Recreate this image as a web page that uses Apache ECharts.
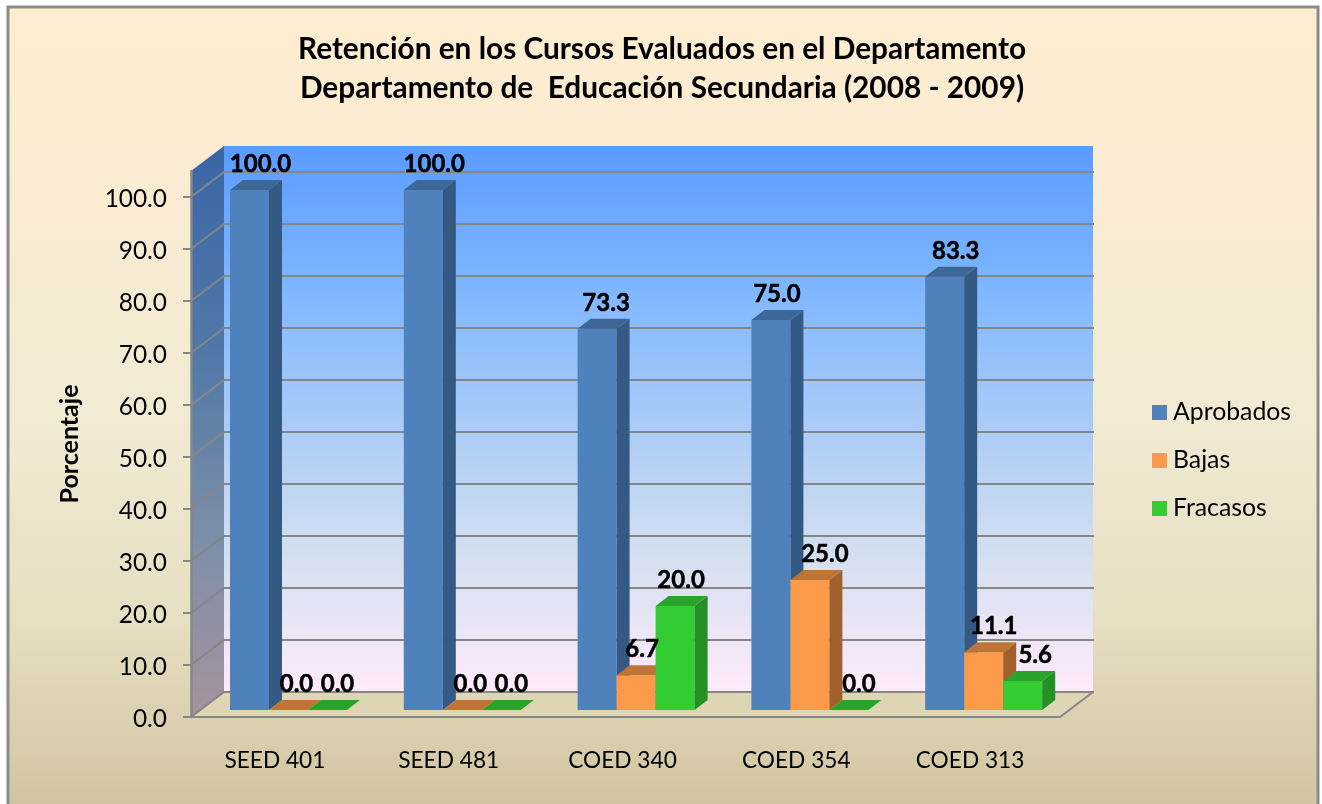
<!DOCTYPE html>
<html><head><meta charset="utf-8">
<style>html,body{margin:0;padding:0;background:#fff}#c{width:1322px;height:804px}</style>
<script src="https://cdn.jsdelivr.net/npm/echarts@6/dist/echarts.min.js"></script>
</head><body><div id="c"></div>
<script>
const titleText = 'Retención en los Cursos Evaluados en el Departamento\nDepartamento de  Educación Secundaria (2008 - 2009)';
const categories = ['SEED 401', 'SEED 481', 'COED 340', 'COED 354', 'COED 313'];
const aprobados = [100.0, 100.0, 73.3, 75.0, 83.3];
const bajas = [0.0, 0.0, 6.7, 25.0, 11.1];
const fracasos = [0.0, 0.0, 20.0, 0.0, 5.6];
const yTicks = [0, 10, 20, 30, 40, 50, 60, 70, 80, 90, 100];

const FONT = 'Lato, Carlito, sans-serif';
const GRID = '#868686';
const WALL_D = [33, -25];     // plot depth in px
const BAR_OFF = [10.6, -7];   // bar front plane relative to the axis plane
const BAR_D = [13, -10];      // bar depth
// horizontal nudges of the data labels, one row per category
const labelNudge = [[11, 8, 10], [11, 8, 10], [9, 6, 6], [6, 15, 10], [11, 10, 12.5]];

const poly = (points, fill, extra) => Object.assign({ type: 'polygon', shape: { points }, style: { fill }, silent: true }, extra || {});
const grad = (stops) => ({ type: 'linear', x: 0, y: 0, x2: 0, y2: 1, colorStops: stops.map(s => ({ offset: s[0], color: s[1] })) });

function renderWalls(params, api) {
  const f0 = api.coord([0, 0]);
  const band = api.size([1, 0])[0];
  const xL = f0[0] - band / 2, xR = xL + band * categories.length, yB = f0[1];
  const yT = api.coord([0, 105])[1];
  const dx = WALL_D[0], dy = WALL_D[1];
  const kids = [];
  kids.push(poly([[xL, yT], [xL + dx, yT + dy], [xL + dx, yB + dy], [xL, yB]], grad([[0, '#3A66A6'], [0.35, '#4F78A8'], [0.7, '#7D8FA8'], [1, '#A8929E']])));
  kids.push(poly([[xL + dx, yT + dy], [xR + dx, yT + dy], [xR + dx, yB + dy], [xL + dx, yB + dy]],
    grad([[0, '#5A9BFF'], [0.25, '#7DB6FF'], [0.5, '#A8CBF7'], [0.75, '#D3DFF0'], [1, '#FFEBFC']])));
  kids.push(poly([[xL, yB], [xL + dx, yB + dy], [xR + dx, yB + dy], [xR, yB]], '#DED5B4'));
  yTicks.forEach(v => {
    const y = api.coord([0, v])[1];
    kids.push({ type: 'polyline', silent: true, shape: { points: [[xL, y], [xL + dx, y + dy], [xR + dx + 1, y + dy]] }, style: { fill: null, stroke: GRID, lineWidth: 2 } });
  });
  kids.push({ type: 'polyline', silent: true, shape: { points: [[xR, yB], [xR + dx, yB + dy]] }, style: { fill: null, stroke: GRID, lineWidth: 2 } });
  return { type: 'group', children: kids };
}

function barRenderer(seriesIdx, cols) {
  return function (params, api) {
    const cat = api.value(0), val = api.value(1);
    const c = api.coord([cat, 0]), t = api.coord([cat, val]);
    const w = api.size([1, 0])[0] * 39 / 173.8;
    const x0 = c[0] + BAR_OFF[0] - 1.5 * w + seriesIdx * w, x1 = x0 + w;
    const yb = c[1] + BAR_OFF[1], yt = t[1] + BAR_OFF[1];
    const dx = BAR_D[0], dy = BAR_D[1];
    const kids = [];
    if (val > 0) {
      kids.push(poly([[x0, yt], [x1, yt], [x1, yb], [x0, yb]], cols[0]));
      kids.push(poly([[x1, yt], [x1 + dx, yt + dy], [x1 + dx, yb + dy], [x1, yb]], cols[1]));
    }
    kids.push(poly([[x0, yt], [x1, yt], [x1 + dx, yt + dy], [x0 + dx, yt + dy]], cols[2]));
    kids.push({
      type: 'text', z2: 100, silent: true,
      style: {
        x: (x0 + x1) / 2 + labelNudge[cat][seriesIdx], y: yt - 26, text: val.toFixed(1),
        fill: '#000', font: 'bold 24px ' + FONT, textAlign: 'center', textVerticalAlign: 'middle',
        stroke: '#000', lineWidth: 0.5
      }
    });
    return { type: 'group', children: kids };
  };
}

const toData = arr => arr.map((v, i) => [i, v]);
const barSeries = (name, arr, idx, cols) => ({
  name, type: 'custom', coordinateSystem: 'cartesian2d', data: toData(arr),
  encode: { x: 0, y: 1 }, itemStyle: { color: cols[0] }, renderItem: barRenderer(idx, cols)
});

const chart = echarts.init(document.getElementById('c'), null, { renderer: 'canvas' });
chart.setOption({
  animation: false,
  backgroundColor: '#fff',
  graphic: [{
    type: 'rect', z: -10, silent: true, shape: { x: 8, y: 7, width: 1310, height: 812 },
    style: { fill: grad([[0, '#FEEDD1'], [0.5, '#F2EAD3'], [0.75, '#E7DFC2'], [1, '#CFC29F']]), stroke: '#8C8C8C', lineWidth: 3 }
  }],
  title: {
    text: titleText, left: 657, top: 25, textAlign: 'center',
    textStyle: { fontFamily: FONT, fontWeight: 'bold', fontSize: 29.8, lineHeight: 39, color: '#000' }
  },
  legend: {
    orient: 'vertical', left: 1147, top: 395, itemWidth: 15, itemHeight: 15, itemGap: 23, icon: 'rect',
    data: ['Aprobados', 'Bajas', 'Fracasos'], selectedMode: false,
    textStyle: { fontFamily: FONT, fontSize: 24.8, lineHeight: 25, color: '#000', padding: [0, 0, 0, 1] }
  },
  grid: { left: 191, right: 262, top: 171, bottom: 87 },
  xAxis: {
    type: 'category', data: categories, z: 5,
    axisLine: { lineStyle: { color: GRID, width: 2 } },
    axisTick: { alignWithLabel: false, length: 8, lineStyle: { color: GRID, width: 2 } },
    axisLabel: { color: '#000', fontFamily: FONT, fontSize: 22.7, margin: 32, padding: [0, 6, 0, 0], interval: 0 },
    splitLine: { show: false }
  },
  yAxis: {
    type: 'value', min: 0, max: 105, interval: 10, z: 5,
    name: 'Porcentaje', nameLocation: 'middle', nameGap: 109, nameRotate: 90,
    nameTextStyle: { fontFamily: FONT, fontWeight: 'bold', fontSize: 25, color: '#000' },
    axisLine: { show: true, lineStyle: { color: GRID, width: 2.5 } },
    axisTick: { show: true, length: 8, customValues: yTicks, lineStyle: { color: GRID, width: 2 } },
    axisLabel: { color: '#000', fontFamily: FONT, fontSize: 24.4, margin: 24, verticalAlign: 'top', lineHeight: 4, customValues: yTicks, formatter: v => v.toFixed(1) },
    splitLine: { show: false }
  },
  series: [
    { name: 'walls', type: 'custom', coordinateSystem: 'cartesian2d', data: [[0, 0]], encode: { x: 0, y: 1 }, z: 1, silent: true, renderItem: renderWalls },
    barSeries('Aprobados', aprobados, 0, ['#4F81BD', '#345A84', '#3D6796']),
    barSeries('Bajas', bajas, 1, ['#FB9A48', '#A0612D', '#BD7434']),
    barSeries('Fracasos', fracasos, 2, ['#33CC33', '#248F24', '#29A329'])
  ]
});
</script></body></html>
